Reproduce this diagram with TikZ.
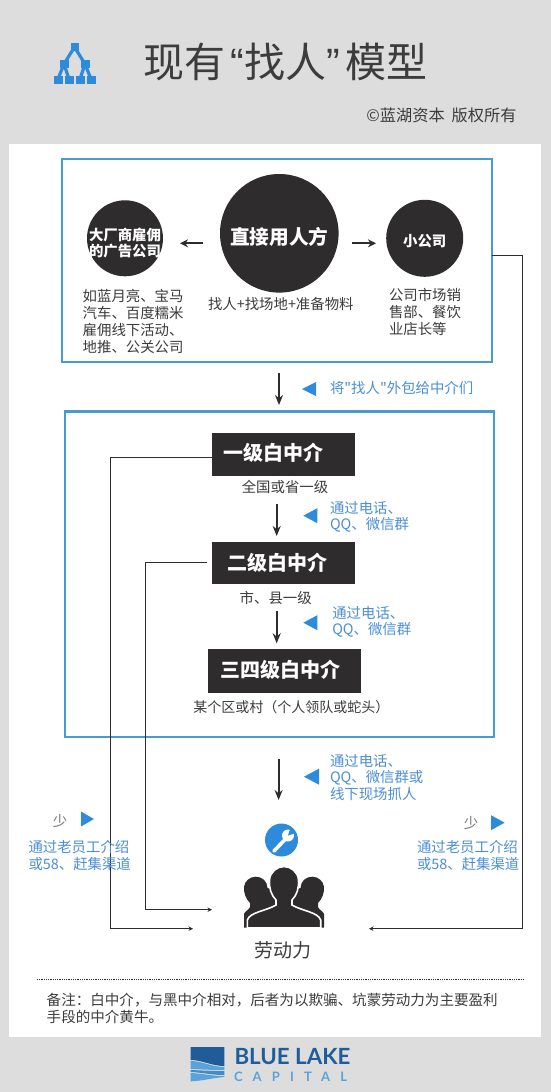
\documentclass[tikz,border=0pt]{standalone}
\usepackage{fontspec}
\usetikzlibrary{arrows.meta,calc}
\newfontfamily\cjk{Noto Sans CJK SC}
\newfontfamily\logofont{Lato}
\newfontfamily\quotefont{Liberation Sans}
\setmainfont{Noto Sans CJK SC}
\newcommand\fwcomma{^^^^ff0c}
\newcommand\fwcolon{^^^^ff1a}
\newcommand\fwopen{^^^^ff08}
\newcommand\fwclose{^^^^ff09}
\definecolor{panelgray}{HTML}{DDDDDE}
\definecolor{boxblue}{HTML}{4A9AD2}
\definecolor{inkdark}{HTML}{2E2C2D}
\definecolor{textdark}{HTML}{3C3C3C}
\definecolor{noteblue}{HTML}{4C8FD6}
\definecolor{triblue}{HTML}{2E8BDC}
\definecolor{logodark}{HTML}{1F5C99}
\definecolor{logomid}{HTML}{3F8CC8}
\definecolor{logolight}{HTML}{5AA3DA}
\tikzset{
  x=1pt,y=-1pt,
  every node/.style={inner sep=0pt,outer sep=0pt,font=\cjk},
  framebox/.style={draw=boxblue,line width=2.4pt,fill=white,rectangle},
  blackbox/.style={fill=inkdark,rectangle},
  disc/.style={fill=inkdark,circle},
  body/.style={text=textdark,font=\cjk\fontsize{14.4}{17}\selectfont,align=left},
  note/.style={text=noteblue,font=\cjk\fontsize{14.4}{16.6}\selectfont,align=left},
  whitetext/.style={text=white,font=\cjk\bfseries\fontsize{14.4}{16.7}\selectfont,align=center},
  headtext/.style={text=white,font=\cjk\bfseries\fontsize{20}{24}\selectfont},
  flow/.style={draw=inkdark,line width=1.9pt,-{Stealth[length=10pt,width=8pt]}},
  side/.style={draw=inkdark,line width=1.8pt,-{Stealth[length=8pt,width=8pt]}},
  wire/.style={draw=inkdark,line width=1.1pt,-{Stealth[length=4.5pt,width=4.5pt]}},
  tri/.style={fill=triblue},
}
\begin{document}
\begin{tikzpicture}
\useasboundingbox (0,0) rectangle (551,1092);
\fill[panelgray] (0,0) rectangle (551,1092);
\fill[white] (9,144) rectangle (541,1037);
% header icon
\begin{scope}[triblue]
\draw[line width=3.2pt] (74.5,47) -- (64,64) (74.5,47) -- (85,64)
  (64,64) -- (58,79) (64,64) -- (69,79) (85,64) -- (80,79) (85,64) -- (91,79);
\fill (70.5,43) rectangle (78.5,50.5);
\fill (59.5,60) rectangle (68.5,68);
\fill (80.5,60) rectangle (89.5,68);
\fill (54,75.5) rectangle (63,84);
\fill (65,75.5) rectangle (73.5,84);
\fill (76,75.5) rectangle (85,84);
\fill (87,75.5) rectangle (95.5,84);
\end{scope}
\node[anchor=west,text=textdark,font=\cjk\fontsize{41}{46}\selectfont] (title) at (143,62) {现有\hbox to 19pt{\hfill\quotefont “}找人\hbox to 19pt{\quotefont ”\hfill}模型};
\node[anchor=east,text=textdark,font=\cjk\fontsize{16.2}{18}\selectfont] (copy) at (516.5,115) {©蓝湖资本\hspace{7pt}版权所有};
% top frame
\node[framebox,minimum width=430pt,minimum height=203pt] (topbox) at (277,260.5) {};
\node[disc,minimum size=118.6pt] (direct) at (279.3,233.3) {};
\node[text=white,font=\cjk\bfseries\fontsize{19.7}{24}\selectfont] (directt) at (279.3,236.5) {直接用人方};
\node[disc,minimum size=76pt] (adco) at (125,238.3) {};
\node[whitetext] (adcot) at (125,243) {大厂商雇佣\\的广告公司};
\node[disc,minimum size=77pt] (small) at (424.7,238.3) {};
\node[whitetext] (smallt) at (424.7,241.5) {小公司};
\coordinate (adL) at (180,243.3);
\coordinate (adR) at (202.7,243.3);
\coordinate (smL) at (352,243.3);
\coordinate (smR) at (376,243.3);
\draw[side] (adR) -- (adL);
\draw[side] (smL) -- (smR);
\node[body,anchor=west] (adtext) at (82.7,321) {如蓝月亮、宝马\\汽车、百度糯米\\雇佣线下活动、\\地推、公关公司};
\node[body] (needs) at (280.8,304.3) {找人+找场地+准备物料};
\node[body,anchor=west] (smalltext) at (389,312) {公司市场销\\售部、餐饮\\业店长等};
% outsource arrow
\coordinate (outA) at (279,373);
\coordinate (outB) at (279,405);
\draw[flow] (outA) -- (outB);
\fill[tri] (302,389) -- (316,382) -- (316,396) -- cycle;
\node[note,anchor=west] (outsource) at (330,388) {将"找人"外包给中介们};
% middle frame
\node[framebox,minimum width=429pt,minimum height=325.5pt] (midbox) at (279.5,574.4) {};
\node[blackbox,minimum width=142.7pt,minimum height=43.6pt] (lvlone) at (283.4,454.5) {};
\node[headtext,anchor=west] (lvlonet) at (223.3,452.3) {一级白中介};
\node[body] (lvlonesub) at (285,487.3) {全国或省一级};
\node[blackbox,minimum width=142.7pt,minimum height=42pt] (lvltwo) at (283.4,562.7) {};
\node[headtext,anchor=west] (lvltwot) at (227.7,562.7) {二级白中介};
\node[body] (lvltwosub) at (275.7,597.7) {市、县一级};
\node[blackbox,minimum width=153.3pt,minimum height=43.7pt] (lvlthree) at (284.3,670.8) {};
\node[headtext,anchor=west] (lvlthreet) at (220,669.3) {三四级白中介};
\node[body,anchor=west,font=\cjk\fontsize{14}{17}\selectfont] (lvlthreesub) at (193.3,706.7) {某个区或村\fwopen 个人领队或蛇头\fwclose};
\coordinate (f1a) at (276.7,504.3);
\coordinate (f1b) at (276.7,536);
\coordinate (f2a) at (276.7,611);
\coordinate (f2b) at (276.7,643.3);
\draw[flow] (f1a) -- (f1b);
\draw[flow] (f2a) -- (f2b);
\fill[tri] (303.3,515.7) -- (317.3,508.2) -- (317.3,523.2) -- cycle;
\node[note,anchor=west] (chanone) at (330,516.7) {通过电话、\\QQ、微信群};
\fill[tri] (303.3,622.7) -- (317.3,615.2) -- (317.3,630.2) -- cycle;
\node[note,anchor=west] (chantwo) at (332.3,621.7) {通过电话、\\QQ、微信群};
% lower arrow
\coordinate (f3a) at (278.6,759);
\coordinate (f3b) at (278.6,800);
\draw[flow] (f3a) -- (f3b);
\fill[tri] (304,776.7) -- (319,768.7) -- (319,784.7) -- cycle;
\node[note,anchor=west] (chanthree) at (330,777.5) {通过电话、\\QQ、微信群或\\线下现场抓人};
% wires
\coordinate (w1c) at (110.6,928.7);
\coordinate (w1e) at (193,928.7);
\coordinate (w2s) at (207,562.3);
\coordinate (w2c) at (145.5,909.7);
\coordinate (w2e) at (212,909.7);
\coordinate (w3c) at (522.8,928.7);
\coordinate (w3e) at (369,928.7);
\draw[wire] ([yshift=-3.2pt]lvlone.west) -| (w1c) -- (w1e);
\draw[wire] (w2s) -| (w2c) -- (w2e);
\draw[wire] ([yshift=5pt]topbox.east) -| (w3c) -- (w3e);
% side notes
\node[text=textdark!70,font=\cjk\fontsize{14.4}{17}\selectfont] (lessL) at (60,820.7) {少};
\fill[tri] (94,819) -- (81,811.5) -- (81,826.5) -- cycle;
\node[note,anchor=west] (sideL) at (28.5,855.5) {通过老员工介绍\\或58、赶集渠道};
\node[text=textdark!70,font=\cjk\fontsize{14.4}{17}\selectfont] (lessR) at (471,822.7) {少};
\fill[tri] (504.6,822.7) -- (491,815.2) -- (491,830.2) -- cycle;
\node[note,anchor=west] (sideR) at (417,855.5) {通过老员工介绍\\或58、赶集渠道};
% wrench badge
\fill[triblue] (281.5,840) circle (16.5);
\draw[white,line width=3.6pt,line cap=round] (274,851) -- (285,839.5);
\fill[white] (288,835.5) circle (6);
\fill[triblue] (288,835.5) -- (290.5,827.5) -- (296,833) -- cycle;
% people
\fill[inkdark] (244,927.5) -- (244,914) .. controls (245,911) and (249,910) .. (250,907) -- (250,903) .. controls (246,899) and (243.5,893) .. (244,887) .. controls (244.5,881) and (250,876.7) .. (255.7,876.7) .. controls (262,876.7) and (267.3,881) .. (267.5,888) -- (275,890) -- (275,927.5) -- cycle;
\fill[inkdark] (324,927.5) -- (324,914) .. controls (323,911) and (319,910) .. (318,907) -- (318,903) .. controls (322,899) and (324.5,893) .. (324,887) .. controls (323.5,881) and (318,876.7) .. (312.3,876.7) .. controls (306,876.7) and (300.7,881) .. (300.5,888) -- (293,890) -- (293,927.5) -- cycle;
\fill[inkdark,draw=white,line width=1.6pt] (247.3,928) -- (247.3,920) .. controls (250,912) and (266,911) .. (276,905) -- (276,900) .. controls (271,895) and (269,888) .. (269.5,880) .. controls (270,872) and (277,866.5) .. (284,866.5) .. controls (291,866.5) and (298,872) .. (298.5,880) .. controls (299,888) and (297,895) .. (292,900) -- (292,905) .. controls (302,911) and (318,912) .. (320.7,920) -- (320.7,928) -- cycle;
\fill[white] (240,927.5) rectangle (330,931);
\node[text=textdark,font=\cjk\fontsize{19}{22}\selectfont] (labour) at (283,950) {劳动力};
% footnote
\coordinate (dotL) at (37,979.3);
\coordinate (dotR) at (523.5,979.3);
\draw[inkdark,line width=0.7pt,dash pattern=on 0.8pt off 1pt] (dotL) -- (dotR);
\node[body,anchor=west,font=\cjk\fontsize{14.55}{17}\selectfont] (foot) at (46.7,1008.5) {备注\fwcolon 白中介\fwcomma 与黑中介相对\fwcomma 后者为以欺骗、坑蒙劳动力为主要盈利\\手段的中介黄牛。};
% logo
\fill[logodark] (190.7,1047) -- (224.3,1047) -- (224.3,1066) .. controls (212,1066) and (202,1060) .. (190.7,1060) -- cycle;
\fill[logolight] (190.7,1061) .. controls (202,1061) and (212,1067) .. (224.3,1067) -- (224.3,1070) .. controls (212,1070) and (202,1069.5) .. (190.7,1069) -- cycle;
\fill[logomid] (190.7,1070) .. controls (202,1070.5) and (212,1071) .. (224.3,1071) -- (224.3,1075) .. controls (212,1075) and (202,1072.5) .. (190.7,1072) -- cycle;
\fill[logolight] (190.7,1073) .. controls (202,1073.5) and (212,1076) .. (224.3,1076) -- (224.3,1077) .. controls (212,1078) and (202,1081) .. (190.7,1081.3) -- cycle;
\node[anchor=west,text=logodark,font=\logofont\bfseries\fontsize{22.3}{26}\selectfont] (brand) at (234.5,1056.7) {BLUE LAKE};
\node[anchor=west,text=logolight,font=\logofont\bfseries\fontsize{13}{15}\selectfont] (capital) at (234,1077) {\addfontfeatures{LetterSpace=78}CAPITAL};
\end{tikzpicture}
\end{document}
